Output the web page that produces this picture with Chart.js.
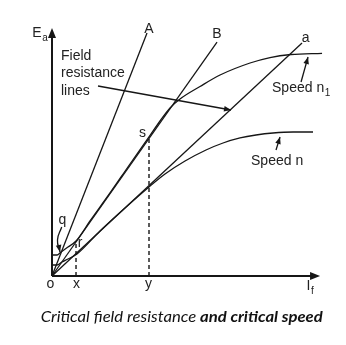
<!DOCTYPE html>
<html>
<head>
<meta charset="utf-8">
<script src="https://cdn.jsdelivr.net/npm/chart.js@4"></script>
<style>
  html, body { margin: 0; padding: 0; background: #fff; }
  canvas { display: block; }
</style>
</head>
<body>
<canvas id="myChart" width="346" height="345"></canvas>
<script>
// field resistance lines through the origin
const lineA = [{x: 0, y: 0}, {x: 35.45, y: 97.98}];
const lineB = [{x: 0, y: 0}, {x: 61.57, y: 94.35}];
const lineLowA = [{x: 0, y: 0}, {x: 93.28, y: 93.95}];

// magnetisation curves
const speedN1 = [
    {x: 0, y: 8.47}, {x: 1.87, y: 8.47}, {x: 3.36, y: 9.68}, {x: 5.97, y: 11.69},
    {x: 8.96, y: 14.11}, {x: 14.18, y: 22.18}, {x: 21.64, y: 33.47}, {x: 29.10, y: 45.16},
    {x: 36.19, y: 56.05}, {x: 40.30, y: 62.50}, {x: 44.03, y: 67.74}, {x: 47.76, y: 71.37},
    {x: 55.22, y: 76.41}, {x: 62.69, y: 81.05}, {x: 73.88, y: 85.89}, {x: 81.34, y: 88.10},
    {x: 89.18, y: 89.31}, {x: 100.75, y: 89.80}
];
const speedN = [
    {x: 0, y: 4.44}, {x: 1.87, y: 4.44}, {x: 3.73, y: 5.65}, {x: 5.97, y: 6.85},
    {x: 9.33, y: 8.87}, {x: 17.91, y: 18.15}, {x: 27.24, y: 27.42}, {x: 36.19, y: 35.89},
    {x: 42.16, y: 41.13}, {x: 49.63, y: 46.37}, {x: 57.46, y: 50.81}, {x: 63.81, y: 53.63},
    {x: 70.15, y: 55.65}, {x: 76.12, y: 56.85}, {x: 82.46, y: 57.66}, {x: 89.93, y: 58.06},
    {x: 97.39, y: 58.06}
];

// dashed projections x and y
const dropX = [{x: 8.96, y: 0}, {x: 8.96, y: 14.11}];
const dropY = [{x: 36.19, y: 0}, {x: 36.19, y: 56.05}];

// pointer arrows
const fieldArrow = [{x: 17.16, y: 76.61}, {x: 66.79, y: 66.94}];
const n1Arrow = [{x: 92.91, y: 78.23}, {x: 95.52, y: 88.31}];
const nArrow = [{x: 83.58, y: 50.81}, {x: 85.07, y: 56.05}];
const qArrow = [{x: 3.62, y: 19.76}, {x: 2.05, y: 14.52}, {x: 2.99, y: 9.68}];

// text labels (x, y = baseline in data units)
const labels = [
    {text: 'A', x: 36.19, y: 97.98, align: 'center'},
    {text: 'B', x: 61.57, y: 95.97, align: 'center'},
    {text: 'a', x: 94.59, y: 94.35, align: 'center'},
    {text: 'E', sub: 'a', x: -5.60, y: 96.37, align: 'center'},
    {text: 'Field', x: 3.36, y: 87.10, align: 'left'},
    {text: 'resistance', x: 3.36, y: 80.12, align: 'left'},
    {text: 'lines', x: 3.36, y: 72.98, align: 'left'},
    {text: 's', x: 33.77, y: 56.05, align: 'center'},
    {text: 'r', x: 10.45, y: 11.69, align: 'center'},
    {text: 'q', x: 3.92, y: 20.97, align: 'center'},
    {text: 'o', x: -0.56, y: -4.84, align: 'center'},
    {text: 'x', x: 9.14, y: -4.84, align: 'center'},
    {text: 'y', x: 36.01, y: -4.84, align: 'center'},
    {text: 'I', sub: 'f', x: 95.71, y: -5.65, align: 'center'},
    {text: 'Speed n', sub: '1', x: 82.09, y: 74.19, align: 'left'},
    {text: 'Speed n', x: 74.25, y: 44.76, align: 'left'}
];

const captionLight = 'Critical field resistance ';
const captionBold = 'and critical speed';

const ink = '#161616';

function plain(label, data, extra) {
    return Object.assign({
        label: label,
        data: data,
        showLine: true,
        borderColor: ink,
        borderWidth: 1.3,
        pointRadius: 0,
        fill: false,
        clip: false
    }, extra || {});
}

const drawingPlugin = {
    id: 'drawing',
    afterDatasetsDraw(chart) {
        const ctx = chart.ctx;
        const xs = chart.scales.x;
        const ys = chart.scales.y;
        const px = v => xs.getPixelForValue(v);
        const py = v => ys.getPixelForValue(v);

        function head(x0, y0, x1, y1, len, half) {
            const ang = Math.atan2(y1 - y0, x1 - x0);
            ctx.beginPath();
            ctx.moveTo(x1, y1);
            ctx.lineTo(x1 - len * Math.cos(ang) + half * Math.sin(ang), y1 - len * Math.sin(ang) - half * Math.cos(ang));
            ctx.lineTo(x1 - len * Math.cos(ang) - half * Math.sin(ang), y1 - len * Math.sin(ang) + half * Math.cos(ang));
            ctx.closePath();
            ctx.fill();
        }

        ctx.save();
        ctx.strokeStyle = ink;
        ctx.fillStyle = ink;

        // axes
        ctx.lineWidth = 2;
        ctx.beginPath();
        ctx.moveTo(px(0), py(0));
        ctx.lineTo(px(100) - 6, py(0));
        ctx.moveTo(px(0), py(0));
        ctx.lineTo(px(0), py(100) + 6);
        ctx.stroke();
        head(px(0), py(0), px(100), py(0), 10, 4);
        head(px(0), py(0), px(0), py(100), 10, 4);

        // arrowheads on pointer datasets
        chart.data.datasets.forEach((ds, i) => {
            if (!ds.arrow) return;
            const pts = chart.getDatasetMeta(i).data;
            const a = pts[pts.length - 2], b = pts[pts.length - 1];
            head(a.x, a.y, b.x, b.y, 7, 2.8);
        });

        // text labels
        ctx.fillStyle = '#222';
        ctx.textBaseline = 'alphabetic';
        labels.forEach(l => {
            ctx.font = '14px "Liberation Sans", Arial, sans-serif';
            ctx.textAlign = l.align;
            const x = px(l.x), y = py(l.y);
            ctx.fillText(l.text, x, y);
            if (l.sub) {
                const w = ctx.measureText(l.text).width;
                const right = l.align === 'center' ? x + w / 2 : x + w;
                ctx.font = '10px "Liberation Sans", Arial, sans-serif';
                ctx.textAlign = 'left';
                ctx.fillText(l.sub, right + 0.5, y + 3.5);
            }
        });

        // caption
        ctx.fillStyle = '#111';
        ctx.textAlign = 'left';
        const lightFont = 'italic 16px Lato, "Open Sans", sans-serif';
        const boldFont = 'italic bold 16px Lato, "Open Sans", sans-serif';
        ctx.font = lightFont;
        const w1 = ctx.measureText(captionLight).width;
        ctx.font = boldFont;
        const w2 = ctx.measureText(captionBold).width;
        const target = 282;
        const k = target / (w1 + w2);
        ctx.translate(40.7, 322);
        ctx.scale(k, 1);
        ctx.font = lightFont;
        ctx.fillText(captionLight, 0, 0);
        ctx.font = boldFont;
        ctx.fillText(captionBold, w1, 0);
        ctx.restore();
    }
};

const ctx = document.getElementById('myChart');
const myChart = new Chart(ctx, {
    type: 'scatter',
    data: {
        datasets: [
            plain('A', lineA),
            plain('B', lineB),
            plain('a', lineLowA),
            plain('Speed n1', speedN1, {cubicInterpolationMode: 'monotone'}),
            plain('Speed n', speedN, {cubicInterpolationMode: 'monotone'}),
            plain('x', dropX, {borderDash: [4, 3], borderWidth: 1.4}),
            plain('y', dropY, {borderDash: [4, 3], borderWidth: 1.4}),
            plain('Field resistance lines', fieldArrow, {arrow: true}),
            plain('n1 pointer', n1Arrow, {arrow: true}),
            plain('n pointer', nArrow, {arrow: true}),
            plain('q pointer', qArrow, {arrow: true, tension: 0.5})
        ]
    },
    options: {
        responsive: false,
        devicePixelRatio: 1,
        animation: false,
        layout: {
            padding: {left: 52, right: 20.6, top: 28, bottom: 69}
        },
        plugins: {
            legend: {display: false},
            tooltip: {enabled: false}
        },
        scales: {
            x: {type: 'linear', min: 0, max: 102, display: false},
            y: {type: 'linear', min: 0, max: 100, display: false}
        }
    },
    plugins: [drawingPlugin]
});
</script>
</body>
</html>
